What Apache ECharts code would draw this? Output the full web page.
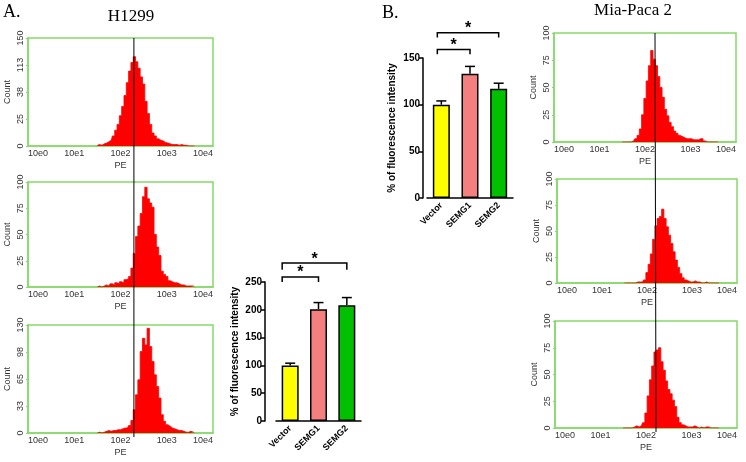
<!DOCTYPE html>
<html>
<head>
<meta charset="utf-8">
<script src="https://cdn.jsdelivr.net/npm/echarts@6/dist/echarts.min.js"></script>
<style>
html, body { margin: 0; padding: 0; background: #fff; }
#chart { width: 746px; height: 462px; }
</style>
</head>
<body>
<div id="chart"></div>
<script>
// histogram bins: log10 decades, first bin and bin width
var binStart = 1.5;
var binStep = 0.05;
var decadeLabels = ['10e0', '10e1', '10e2', '10e3', '10e4'];

// H1299 counts per bin
var h1299Vector = [1,2,1,3,4,6,8,14,22,30,42,55,70,88,104,116,124,117,108,96,86,62,45,30,18,14,10,8,7,5,4,3,2,2,2,1,2,1,1,0,0,0,0];
var h1299Semg1 = [0,1,0,1,2,1,3,2,4,3,5,4,7,8,10,18,32,48,58,70,86,95,84,80,76,50,38,30,15,12,10,6,5,4,4,3,2,2,1,1,1,1,0];
var h1299Semg2 = [0,1,0,1,2,3,2,3,3,4,4,5,6,6,9,15,28,46,64,98,114,106,126,104,86,70,56,42,22,14,10,8,6,5,4,3,3,2,1,1,2,1,0];
// Mia-Paca 2 counts per bin
var miaVector = [0,0,0,0,0,1,3,6,12,25,40,56,70,84,76,70,60,50,41,30,24,18,14,10,8,6,5,4,3,3,3,2,2,2,3,3,1,0,0,0,0,0,0];
var miaSemg1 = [0,0,0,0,0,0,1,1,1,3,10,18,28,42,55,62,64,71,62,54,46,38,30,22,15,9,5,3,2,1,1,2,1,1,0,0,1,0,0,0,0,0,0];
var miaSemg2 = [0,0,0,0,0,1,2,1,2,5,14,30,45,58,71,73,75,62,54,44,36,32,26,20,10,5,3,2,1,1,1,2,1,0,1,0,1,1,0,0,0,0,0];

// y tick labels as printed on each histogram
var ticks1 = ['0', '25', '38', '113', '150'];
var ticks2 = ['0', '25', '50', '75', '100'];
var ticks3 = ['0', '33', '65', '98', '130'];
var ticksMia = ['0', '25', '50', '75', '100'];

// bar charts
var groups = ['Vector', 'SEMG1', 'SEMG2'];
var h1299Mean = [100, 201, 208];
var h1299Err = [4, 12, 14];
var miaMean = [100, 133, 117];
var miaErr = [4, 8, 6];
// significance brackets: from group, to group, bracket level, leg end
var bracketsH1299 = [[0, 1, 259, 250], [0, 2, 284, 272]];
var bracketsMia = [[0, 1, 159, 154], [0, 2, 177, 172]];

var markerLeft = 2.29;
var markerRight = 2.22;

var barColors = ['#ffff00', '#f47f7f', '#00c000'];
var green = '#86d96b';
var sans = 'Liberation Sans';
var serif = 'Liberation Serif';

var hists = [
  { counts: h1299Vector, ticks: ticks1, max: 150, left: 28, top: 38, width: 185, height: 108 },
  { counts: h1299Semg1, ticks: ticks2, max: 100, left: 28, top: 182, width: 185, height: 105 },
  { counts: h1299Semg2, ticks: ticks3, max: 130, left: 28, top: 325, width: 185, height: 108 },
  { counts: miaVector, ticks: ticksMia, max: 100, left: 554, top: 33, width: 182, height: 109 },
  { counts: miaSemg1, ticks: ticksMia, max: 100, left: 557, top: 179, width: 180, height: 104 },
  { counts: miaSemg2, ticks: ticksMia, max: 100, left: 555, top: 321, width: 182, height: 107 }
];

var chartDom = document.getElementById('chart');
var myChart = echarts.init(chartDom);
var option;

var grids = [], xAxes = [], yAxes = [], series = [];

hists.forEach(function (h, k) {
  grids.push({ left: h.left, top: h.top, width: h.width, height: h.height, show: true, borderColor: green, borderWidth: 1.5, backgroundColor: '#fff' });
  xAxes.push({
    type: 'value', gridIndex: k, min: 0, max: 4, interval: 1,
    axisLine: { lineStyle: { color: green, width: 1.5 } },
    axisTick: { show: false },
    splitLine: { show: false },
    axisLabel: {
      color: '#333', fontSize: 9, fontFamily: sans, margin: 3,
      alignMinLabel: 'left', alignMaxLabel: 'right',
      formatter: function (v) { return decadeLabels[Math.round(v)]; }
    },
    name: 'PE', nameLocation: 'middle', nameGap: 15,
    nameTextStyle: { color: '#333', fontSize: 9, fontFamily: sans }
  });
  var ticks = h.ticks;
  var step = h.max / 4;
  yAxes.push({
    type: 'value', gridIndex: k, min: 0, max: h.max, interval: step,
    axisLine: { lineStyle: { color: green, width: 1.5 } },
    axisTick: { show: true, length: 2, lineStyle: { color: green } },
    minorTick: { show: true, splitNumber: 5, length: 1, lineStyle: { color: green } },
    splitLine: { show: false },
    axisLabel: {
      color: '#333', fontSize: 9, fontFamily: sans, rotate: 90, margin: 3,
      formatter: function (v) { return ticks[Math.round(v / step)]; }
    },
    name: 'Count', nameLocation: 'middle', nameGap: 16, nameRotate: 90,
    nameTextStyle: { color: '#333', fontSize: 9, fontFamily: sans }
  });
  series.push({
    type: 'line', xAxisIndex: k, yAxisIndex: k, step: 'middle', symbol: 'none', silent: true,
    lineStyle: { color: '#ff0000', width: 0.8 },
    areaStyle: { color: '#ff0000', opacity: 1 },
    data: h.counts.map(function (c, i) { return [binStart + i * binStep, c]; })
  });
});

function errorBar(params, api) {
  var base = api.coord([api.value(0), api.value(1)]);
  var top = api.coord([api.value(0), api.value(1) + api.value(2)]);
  var st = { stroke: '#000', lineWidth: 1.5 };
  return {
    type: 'group', children: [
      { type: 'line', shape: { x1: base[0], y1: base[1], x2: top[0], y2: top[1] }, style: st },
      { type: 'line', shape: { x1: top[0] - 5, y1: top[1], x2: top[0] + 5, y2: top[1] }, style: st }
    ]
  };
}

function makeBracket(shift) {
  return function (params, api) {
    var a = api.coord([api.value(0), api.value(3)]);
    var b = api.coord([api.value(1), api.value(3)]);
    var ya = api.coord([api.value(0), api.value(2)])[1];
    var st = { stroke: '#000', lineWidth: 1.5, fill: null };
    var x1 = a[0] - shift, x2 = b[0];
    return {
      type: 'group', children: [
        { type: 'polyline', shape: { points: [[x1, a[1]], [x1, ya], [x2, ya], [x2, b[1]]] }, style: st },
        { type: 'text', x: (x1 + x2) / 2, y: ya - 4, style: { text: '*', fill: '#000', font: 'bold 16px ' + sans, align: 'center', verticalAlign: 'middle' } }
      ]
    };
  };
}

function barPanel(gi, grid, yMax, yOffset, nameGap, means, errs, brackets, shift) {
  grids.push(grid);
  xAxes.push({
    type: 'category', gridIndex: gi, data: groups,
    axisLine: { lineStyle: { color: '#000', width: 1.5 } },
    axisTick: { alignWithLabel: true, length: 4, lineStyle: { color: '#000', width: 1.5 } },
    axisLabel: { rotate: 45, color: '#000', fontSize: 9, fontWeight: 'bold', fontFamily: sans, margin: 6, interval: 0 }
  });
  yAxes.push({
    type: 'value', gridIndex: gi, min: 0, max: yMax, interval: 50, offset: yOffset,
    axisLine: { show: true, lineStyle: { color: '#000', width: 1.5 } },
    axisTick: { show: true, length: 4, lineStyle: { color: '#000', width: 1.5 } },
    splitLine: { show: false },
    axisLabel: { color: '#000', fontSize: 10, fontWeight: 'bold', fontFamily: sans, margin: 3 },
    name: '% of fluorescence intensity', nameLocation: 'middle', nameRotate: 90, nameGap: nameGap,
    nameTextStyle: { color: '#000', fontSize: 10, fontWeight: 'bold', fontFamily: sans }
  });
  series.push({
    type: 'bar', xAxisIndex: gi, yAxisIndex: gi, barWidth: 17, silent: true,
    itemStyle: { borderColor: '#000', borderWidth: 1.5 },
    data: means.map(function (m, i) { return { value: m, itemStyle: { color: barColors[i] } }; })
  });
  series.push({
    type: 'custom', xAxisIndex: gi, yAxisIndex: gi, silent: true, renderItem: errorBar,
    encode: { x: 0, y: 1 },
    data: means.map(function (m, i) { return [i, m, errs[i]]; })
  });
  series.push({
    type: 'custom', xAxisIndex: gi, yAxisIndex: gi, silent: true, renderItem: makeBracket(shift),
    encode: { x: 0, y: 2 },
    data: brackets
  });
}

barPanel(6, { left: 276, top: 282, width: 85, height: 139 }, 250, 11, 25, h1299Mean, h1299Err, bracketsH1299, 8);
barPanel(7, { left: 427, top: 58, width: 86, height: 140 }, 150, 4, 26, miaMean, miaErr, bracketsMia, 4);

option = {
  animation: false,
  backgroundColor: '#fff',
  grid: grids,
  xAxis: xAxes,
  yAxis: yAxes,
  series: series,
  graphic: [
    { type: 'text', left: 3, top: 3, style: { text: 'A.', font: '18px ' + serif, fill: '#000' } },
    { type: 'text', x: 131, y: 17, style: { text: 'H1299', font: '17px ' + serif, fill: '#000', align: 'center', verticalAlign: 'middle' } },
    { type: 'text', left: 382, top: 4, style: { text: 'B.', font: '18px ' + serif, fill: '#000' } },
    { type: 'text', x: 633, y: 11, style: { text: 'Mia-Paca 2', font: '17px ' + serif, fill: '#000', align: 'center', verticalAlign: 'middle' } }
  ]
};

option && myChart.setOption(option);

// gate markers running through each column of histograms
function gateLine(topGrid, bottomGrid, topMax, dec) {
  var p1 = myChart.convertToPixel({ gridIndex: topGrid }, [dec, topMax]);
  var p2 = myChart.convertToPixel({ gridIndex: bottomGrid }, [dec, 0]);
  return { type: 'line', z: 100, shape: { x1: p1[0], y1: p1[1], x2: p2[0], y2: p2[1] + 4 }, style: { stroke: '#000', lineWidth: 1 } };
}
var g = option.graphic.slice();
g.push(gateLine(0, 2, 150, markerLeft));
g.push(gateLine(3, 5, 100, markerRight));
myChart.setOption({ graphic: g });
</script>
</body>
</html>
